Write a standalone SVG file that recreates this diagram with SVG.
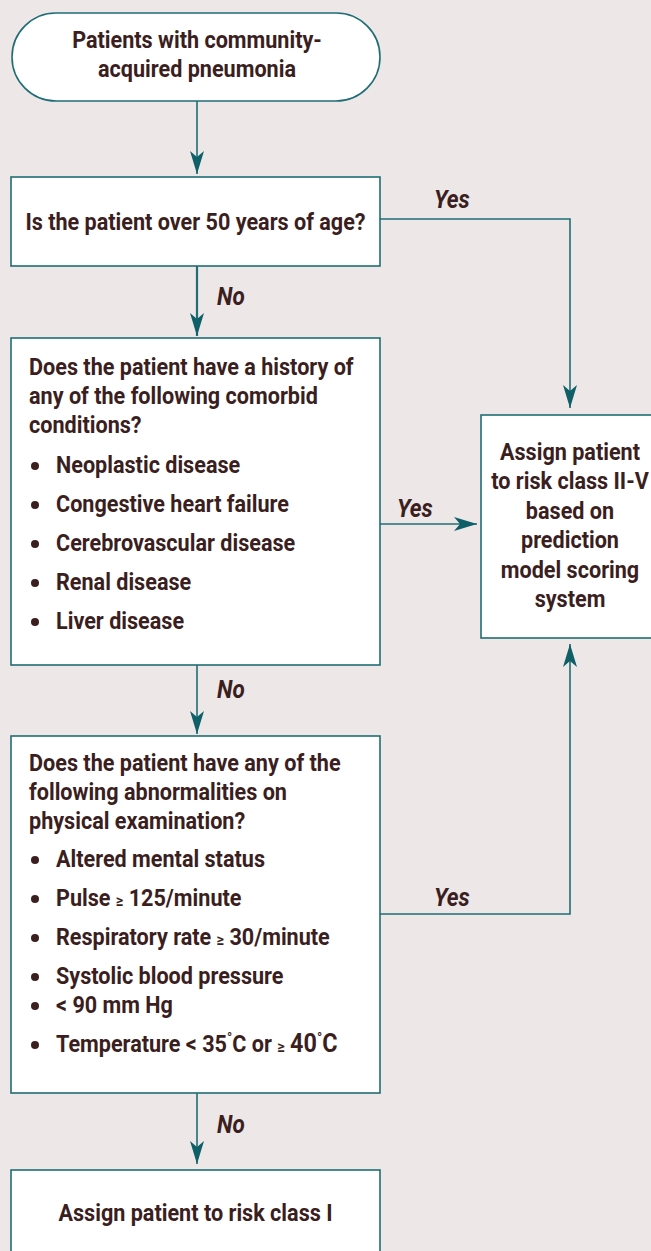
<svg xmlns="http://www.w3.org/2000/svg" width="651" height="1251" viewBox="0 0 651 1251">
<style>
.bg{fill:#ede7e7}
.node{fill:#ffffff;stroke:#1f6e75;stroke-width:1.6}
.t{font-family:"Liberation Sans Narrow","Roboto","Liberation Sans",sans-serif;font-weight:bold;font-size:24px;fill:#3b1f1f}
.c{text-anchor:middle}
.lbl{font-family:"Liberation Sans Narrow","Roboto","Liberation Sans",sans-serif;font-weight:bold;font-style:italic;font-size:25px;fill:#3b1f1f}
.edge{fill:none;stroke:#1f6e75;stroke-width:1.6}
.bul{fill:#3b1f1f}
.ge{font-size:16px}
.dg{font-size:15px}
</style>
<defs>
<marker id="ah" viewBox="-24 -8 26 16" refX="0" refY="0" markerWidth="26" markerHeight="16" markerUnits="userSpaceOnUse" orient="auto">
<path d="M0,0 L-23,-7 L-17,0 L-23,7 Z" fill="#0f5f67"/>
</marker>
</defs>
<rect class="bg" x="0" y="0" width="651" height="1251"/>

<g id="connectors">
<line class="edge" x1="197" y1="101" x2="197" y2="174" marker-end="url(#ah)"/>
<line class="edge" x1="197" y1="266" x2="197" y2="336" style="stroke-width:2.2" marker-end="url(#ah)"/>
<polyline class="edge" points="380,219 570,219 570,408" marker-end="url(#ah)"/>
<line class="edge" x1="380" y1="524" x2="477" y2="524" marker-end="url(#ah)"/>
<line class="edge" x1="197" y1="665" x2="197" y2="734" marker-end="url(#ah)"/>
<polyline class="edge" points="380,914 570,914 570,644" marker-end="url(#ah)"/>
<line class="edge" x1="197" y1="1093" x2="197" y2="1164" marker-end="url(#ah)"/>
<text class="lbl" transform="translate(434,208) scale(0.9,1)">Yes</text>
<text class="lbl" transform="translate(217,305) scale(0.9,1)">No</text>
<text class="lbl" transform="translate(397,517) scale(0.9,1)">Yes</text>
<text class="lbl" transform="translate(217,698) scale(0.9,1)">No</text>
<text class="lbl" transform="translate(434,906) scale(0.9,1)">Yes</text>
<text class="lbl" transform="translate(217,1133) scale(0.9,1)">No</text>
</g>

<g id="start">
<rect class="node" x="12" y="13" width="368" height="88" rx="44" ry="44"/>
<text class="t c" transform="translate(197,48) scale(0.9,1)">Patients with community-</text>
<text class="t c" transform="translate(197,77) scale(0.9,1)">acquired pneumonia</text>
</g>

<g id="age">
<rect class="node" x="11" y="177" width="369" height="89"/>
<text class="t c" transform="translate(195.5,230) scale(0.9,1)">Is the patient over 50 years of age?</text>
</g>

<g id="comorbid">
<rect class="node" x="11" y="338" width="369" height="327"/>
<text class="t" transform="translate(29,375) scale(0.9,1)">Does the patient have a history of</text>
<text class="t" transform="translate(29,404) scale(0.9,1)">any of the following comorbid</text>
<text class="t" transform="translate(29,433) scale(0.9,1)">conditions?</text>
<circle class="bul" cx="35" cy="466" r="4"/>
<text class="t" transform="translate(56,473) scale(0.9,1)">Neoplastic disease</text>
<circle class="bul" cx="35" cy="505" r="4"/>
<text class="t" transform="translate(56,512) scale(0.9,1)">Congestive heart failure</text>
<circle class="bul" cx="35" cy="544" r="4"/>
<text class="t" transform="translate(56,551) scale(0.9,1)">Cerebrovascular disease</text>
<circle class="bul" cx="35" cy="583" r="4"/>
<text class="t" transform="translate(56,590) scale(0.9,1)">Renal disease</text>
<circle class="bul" cx="35" cy="622" r="4"/>
<text class="t" transform="translate(56,629) scale(0.9,1)">Liver disease</text>
</g>

<g id="classII-V">
<rect class="node" x="481" y="415" width="175" height="223"/>
<text class="t c" transform="translate(570,460) scale(0.9,1)">Assign patient</text>
<text class="t c" transform="translate(570,489) scale(0.9,1)">to risk class II-V</text>
<text class="t c" transform="translate(570,519) scale(0.9,1)">based on</text>
<text class="t c" transform="translate(570,548) scale(0.9,1)">prediction</text>
<text class="t c" transform="translate(570,578) scale(0.9,1)">model scoring</text>
<text class="t c" transform="translate(570,607) scale(0.9,1)">system</text>
</g>

<g id="exam">
<rect class="node" x="11" y="736" width="369" height="357"/>
<text class="t" transform="translate(29,771) scale(0.9,1)">Does the patient have any of the</text>
<text class="t" transform="translate(29,800) scale(0.9,1)">following abnormalities on</text>
<text class="t" transform="translate(29,829) scale(0.9,1)">physical examination?</text>
<circle class="bul" cx="35" cy="860" r="4"/>
<text class="t" transform="translate(56,867) scale(0.9,1)">Altered mental status</text>
<circle class="bul" cx="35" cy="899" r="4"/>
<text class="t" transform="translate(56,906) scale(0.9,1)">Pulse <tspan class="ge">≥</tspan> 125/minute</text>
<circle class="bul" cx="35" cy="938" r="4"/>
<text class="t" transform="translate(56,945) scale(0.9,1)">Respiratory rate <tspan class="ge">≥</tspan> 30/minute</text>
<circle class="bul" cx="35" cy="977" r="4"/>
<text class="t" transform="translate(56,984) scale(0.9,1)">Systolic blood pressure</text>
<circle class="bul" cx="35" cy="1006" r="4"/>
<text class="t" transform="translate(56,1013) scale(0.9,1)">&lt; 90 mm Hg</text>
<circle class="bul" cx="35" cy="1045" r="4"/>
<text class="t" transform="translate(56,1052) scale(0.9,1)">Temperature &lt; 35<tspan class="dg" dy="-9">°</tspan><tspan dy="9">C or </tspan><tspan class="ge">≥</tspan> <tspan style="font-size:26px">40</tspan><tspan class="dg" dy="-9">°</tspan><tspan dy="9" style="font-size:26px">C</tspan></text>
</g>

<g id="classI">
<rect class="node" x="11" y="1170" width="369" height="90"/>
<text class="t c" transform="translate(195.5,1221) scale(0.9,1)">Assign patient to risk class I</text>
</g>
</svg>
